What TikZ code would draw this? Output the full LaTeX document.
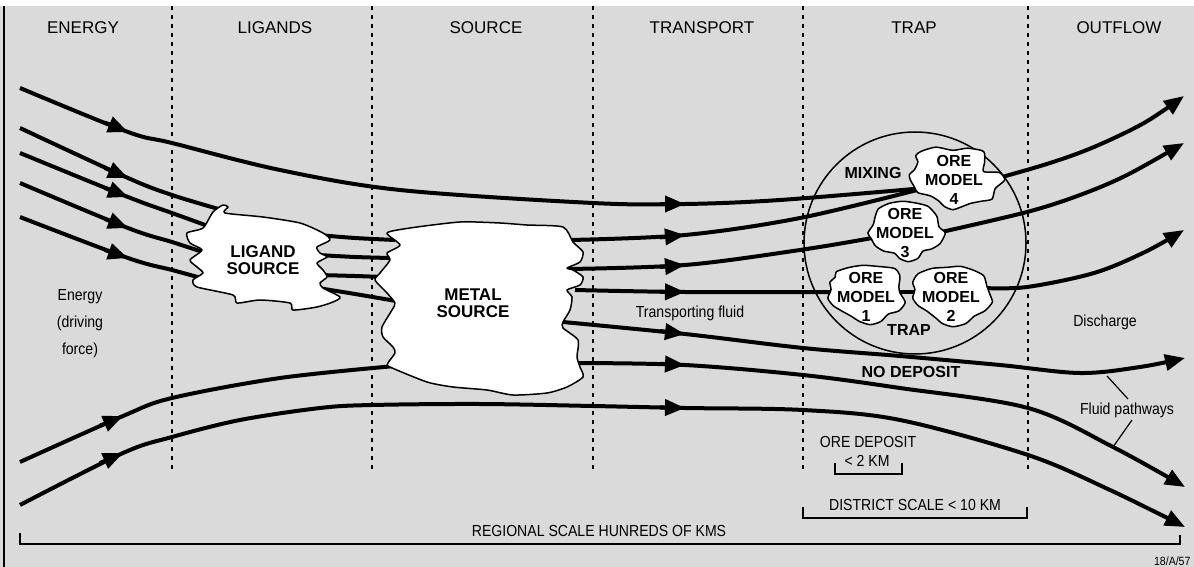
\documentclass[tikz,border=0pt]{standalone}
\usepackage{fontspec}
\setmainfont{Liberation Sans}
\newfontfamily\narrowfont[FakeStretch=0.88]{Liberation Sans}
\usetikzlibrary{arrows.meta}
\definecolor{bggray}{HTML}{DADADA}
\tikzset{tri/.tip={Triangle[length=20pt,width=16pt]}}
\begin{document}
\begin{tikzpicture}[x=1pt,y=-1pt,
  flow/.style={line width=4pt, line join=round},
  tipend/.style={-{tri}},
  arrowseg/.style={line width=4pt, -{tri}},
  blob/.style={fill=white, draw=black, line width=1.5pt, line join=round},
  sep/.style={line width=1.5pt, dash pattern=on 4pt off 5pt},
  head/.style={font=\fontsize{17}{20}\selectfont},
  srclabel/.style={font=\fontsize{17}{17}\selectfont\bfseries, align=center},
  orelabel/.style={font=\fontsize{16}{19}\selectfont\bfseries, align=center},
  boldlabel/.style={font=\fontsize{16}{19}\selectfont\bfseries},
  note/.style={font=\narrowfont\fontsize{16}{27}\selectfont, align=center},
  scalebar/.style={line width=1.3pt},
  leader/.style={line width=1.2pt},
]
\useasboundingbox (0,0) rectangle (1194,567);
\fill[white] (0,0) rectangle (1194,567);
\fill[bggray] (0,6) rectangle (1194,567);
\draw[line width=2pt] (4,6) -- (4,567);

% separators
\foreach \xx in {172,372,593,803,1028}
  \draw[sep] (\xx,6) -- (\xx,470);

% headers
\node[head] (hEnergy) at (83,28) {ENERGY};
\node[head] (hLig) at (275,28) {LIGANDS};
\node[head] (hSrc) at (486,28) {SOURCE};
\node[head] (hTr) at (702,28) {TRANSPORT};
\node[head] (hTrap) at (914,28) {TRAP};
\node[head] (hOut) at (1119,28) {OUTFLOW};

% named end points
\coordinate (inA) at (20,88);
\coordinate (in2) at (20,128);
\coordinate (in3) at (20,153);
\coordinate (in4) at (20,183);
\coordinate (in5) at (20,217);
\coordinate (inG) at (20,462);
\coordinate (inH) at (20,505);
\coordinate (outA) at (1184,96);
\coordinate (outC) at (1184,143);
\coordinate (outD) at (1184,230);
\coordinate (outE) at (1185,358);
\coordinate (outF) at (1185,487);
\coordinate (outH) at (1185,527);
\coordinate (ore4in) at (925,188);
\coordinate (ore4out) at (995,179);
\coordinate (ore3in) at (878,237);
\coordinate (ore3out) at (937,233);
\coordinate (ore1in) at (838,292);
\coordinate (ore1out) at (895,292);
\coordinate (ore2in) at (920,292);
\coordinate (ore2out) at (983,288);

% flow lines
\draw[flow] plot[smooth, tension=0.55] coordinates {(inA) (128,132) (172,143) (280,170) (400,190) (593,203) (685,204) (780,200) (ore4in)};
\draw[arrowseg] (105,122.6) -- (128,132);
\draw[arrowseg] (660,204) -- (685,204);
\draw[flow, tipend] plot[smooth, tension=0.55] coordinates {(ore4out) (1050,163) (1094,147) (1144,123) (outA)};

\draw[flow] plot[smooth, tension=0.55] coordinates {(in2) (128,178) (172,195) (222,210)};
\draw[arrowseg] (105,168) -- (128,178);
\draw[flow] plot[smooth, tension=0.55] coordinates {(in3) (128,197) (172,213) (208,226)};
\draw[arrowseg] (105,188) -- (128,197);
\draw[flow] plot[smooth, tension=0.55] coordinates {(in4) (128,228) (172,242) (206,253)};
\draw[arrowseg] (105,219) -- (128,228);
\draw[flow] plot[smooth, tension=0.55] coordinates {(in5) (128,258) (172,270) (205,279)};
\draw[arrowseg] (104.5,249.8) -- (128,258);

% ligand to metal
\draw[flow] plot[smooth, tension=0.5] coordinates {(318,235) (355,238) (395,240)};
\draw[flow] plot[smooth, tension=0.5] coordinates {(318,255) (355,257) (390,258)};
\draw[flow] plot[smooth, tension=0.5] coordinates {(318,275) (355,276) (383,277)};
\draw[flow] plot[smooth, tension=0.5] coordinates {(318,288) (355,294) (396,301)};

\draw[flow] plot[smooth, tension=0.55] coordinates {(inG) (123,416) (172,398) (280,378) (395,366)};
\draw[arrowseg] (100,425.7) -- (123,416);
\draw[flow, tipend] plot[smooth, tension=0.55] coordinates {(inH) (123,453) (172,437) (240,420) (320,408) (372,405) (480,404) (593,406) (685,408) (803,410) (900,420) (1028,455) (1110,490) (outH)};
\draw[arrowseg] (100,463) -- (123,453);
\draw[arrowseg] (660,407.4) -- (685,408);

% metal to trap
\draw[flow] plot[smooth, tension=0.55] coordinates {(570,240) (685,235) (800,218) (ore4in)};
\draw[arrowseg] (660,237.4) -- (685,235);
\draw[flow] plot[smooth, tension=0.55] coordinates {(568,269) (685,265) (800,250) (ore3in)};
\draw[arrowseg] (660,267) -- (685,265);
\draw[flow, tipend] plot[smooth, tension=0.55] coordinates {(ore3out) (1027,212) (1080,195) (1127,175) (outC)};
\draw[flow] plot[smooth, tension=0.55] coordinates {(575,290) (685,292) (ore1in)};
\draw[arrowseg] (660,291.8) -- (685,292);
\draw[flow] (ore1out) -- (ore2in);
\draw[flow, tipend] plot[smooth, tension=0.55] coordinates {(ore2out) (1027,287) (1094,273) (1145,252) (outD)};
\draw[flow, tipend] plot[smooth, tension=0.55] coordinates {(563,322) (685,334) (803,348) (900,356) (1000,365) (1080,373) (1140,367) (outE)};
\draw[arrowseg] (660,331) -- (685,334);
\draw[flow, tipend] plot[smooth, tension=0.55] coordinates {(578,363) (685,365) (803,375) (900,388) (1028,408) (1113,447) (outF)};
\draw[arrowseg] (660,363.8) -- (685,365);

% ligand source blob
\draw[blob] plot[smooth cycle, tension=0.4] coordinates {(213,212) (223,205) (228,207) (225,213) (263,217) (300,223) (323,233) (330,240) (317,247) (320,253) (327,257) (317,263) (323,270) (327,277) (320,283) (323,288) (340,297) (333,302) (317,307) (293,310) (290,303) (260,300) (237,303) (233,295) (197,287) (193,280) (203,273) (197,267) (190,260) (202,250) (190,243) (187,233) (203,228)};
\node[srclabel] (ligand) at (263,260) {LIGAND\\SOURCE};

% metal source blob
\draw[blob] plot[smooth cycle, tension=0.4] coordinates {(387,233) (400,245) (387,253) (390,260) (380,273) (375,280) (387,293) (395,303) (392,310) (382,327) (383,337) (393,347) (395,353) (388,363) (390,367) (427,382) (453,387) (487,390) (513,395) (547,393) (567,387) (583,377) (580,367) (577,357) (578,340) (563,328) (563,322) (570,310) (572,297) (567,290) (580,285) (583,277) (573,270) (567,268) (580,262) (583,252) (573,242) (563,227) (527,225) (500,223) (460,222) (410,228)};
\node[srclabel] (metal) at (473,303) {METAL\\SOURCE};

% trap circle
\draw[line width=1.5pt] (915,243) circle[radius=111pt];

% ore models
\draw[blob, scale around={1.06:(956,180)}] plot[smooth cycle, tension=0.4] coordinates {(923,153) (937,149) (953,152) (967,150) (982,153) (983,163) (982,172) (997,173) (1002,180) (993,188) (990,198) (980,200) (970,202) (962,205) (953,208) (945,205) (940,200) (932,195) (920,192) (917,187) (913,180) (912,175) (917,170) (920,163) (918,157)};
\node[orelabel] (ore4) at (954,180) {ORE\\MODEL\\4};
\draw[blob, scale around={1.06:(905,232)}] plot[smooth cycle, tension=0.4] coordinates {(880,210) (890,205) (903,203) (917,205) (927,208) (935,217) (937,227) (943,233) (938,243) (930,248) (922,250) (917,257) (908,260) (900,257) (895,252) (885,250) (877,245) (873,238) (870,233) (875,225) (877,217)};
\node[orelabel] (ore3) at (905,233) {ORE\\MODEL\\3};
\draw[blob, scale around={1.06:(866,295)}] plot[smooth cycle, tension=0.4] coordinates {(838,273) (850,269) (863,267) (877,268) (893,270) (898,277) (897,287) (898,293) (903,302) (897,310) (887,313) (880,320) (870,323) (860,320) (852,315) (843,310) (835,305) (830,298) (833,290) (832,283) (837,278)};
\node[orelabel] (ore1) at (866,297) {ORE\\MODEL\\1};
\draw[blob, scale around={1.06:(952,296)}] plot[smooth cycle, tension=0.4] coordinates {(920,275) (933,270) (947,269) (960,268) (973,272) (982,277) (985,287) (988,295) (990,302) (983,310) (973,315) (965,322) (953,325) (943,322) (937,317) (928,310) (920,305) (915,298) (917,290) (915,283)};
\node[orelabel] (ore2) at (951,297) {ORE\\MODEL\\2};

\node[boldlabel] (mixing) at (873,173) {MIXING};
\node[boldlabel] (trap) at (909,330) {TRAP};
\node[boldlabel] (nodep) at (911,372) {NO DEPOSIT};

% notes
\node[note] (energy) at (80,324) {Energy\\(driving\\force)};
\node[note] (transp) at (690,313) {Transporting fluid};
\node[note] (disch) at (1105,322) {Discharge};
\node[note] (fluid) at (1127,410) {Fluid pathways};
\coordinate (fpE) at (1107,376);
\coordinate (fpF) at (1113,447);
\draw[leader] (fpE) -- (1128,399);
\draw[leader] (1132,420) -- (fpF);

% scales
\node[note] (oredep) at (868,442) {ORE DEPOSIT};
\node[note] (twokm) at (867,461) {< 2 KM};
\draw[scalebar] (835,463) -- (835,474) -- (902,474) -- (902,463);
\node[note] (district) at (915,505) {DISTRICT SCALE < 10 KM};
\draw[scalebar] (803,507) -- (803,518) -- (1027,518) -- (1027,507);
\node[note] (regional) at (599,531) {REGIONAL SCALE HUNREDS OF KMS};
\draw[scalebar] (20,533) -- (20,544) -- (1180,544) -- (1180,535);
\node[font=\narrowfont\fontsize{12}{12}\selectfont, anchor=east] (ref) at (1194,561) {18/A/57};
\end{tikzpicture}
\end{document}
